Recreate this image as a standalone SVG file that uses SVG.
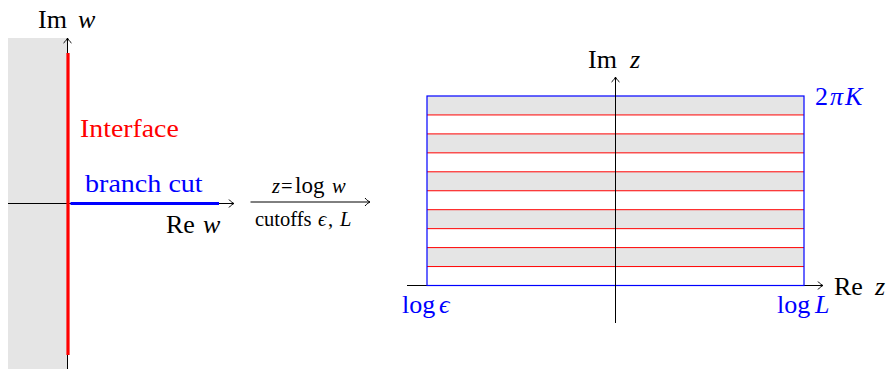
<svg xmlns="http://www.w3.org/2000/svg" width="887" height="369" viewBox="0 0 887 369">
<defs>
<style>
text{font-family:"Liberation Serif","DejaVu Serif",serif;font-size:26px;fill:#000}
.it{font-style:italic}
.red{fill:#ff0000}
.blue{fill:#0000ff}
.small{font-size:20.5px}
.axis{stroke:#000;stroke-width:1;fill:none}
.band{fill:#e5e5e5}
.rl{stroke:#ff0000;stroke-width:1}
</style>
<marker id="to" markerUnits="userSpaceOnUse" orient="auto" refX="0" refY="0" markerWidth="10" markerHeight="10" overflow="visible">
<path d="M-5,-4 C-3,-1.5 -1,-0.5 0,0 C-1,0.5 -3,1.5 -5,4" fill="none" stroke="#000" stroke-width="1"/>
</marker>
</defs>

<g id="w-plane">
<rect x="8" y="38" width="59.5" height="331" class="band"/>
<line x1="8" y1="203.5" x2="234" y2="203.5" class="axis" marker-end="url(#to)"/>
<line x1="67.5" y1="369" x2="67.5" y2="38" class="axis" marker-end="url(#to)"/>
<line x1="68" y1="53" x2="68" y2="355" stroke="#ff0000" stroke-width="3.2"/>
<line x1="70.5" y1="203.5" x2="219" y2="203.5" stroke="#0000ff" stroke-width="3.2"/>
<text x="38" y="28">Im<tspan x="78" class="it">w</tspan></text>
<text transform="translate(80,137) scale(1.07,1)" class="red">Interface</text>
<text transform="translate(85,192) scale(1.08,1)" class="blue">branch cut</text>
<text x="166" y="232.5">Re<tspan x="203" class="it">w</tspan></text>
</g>

<g id="connectors">
<line x1="250.5" y1="202" x2="370" y2="202" class="axis" marker-end="url(#to)"/>
<text x="272" y="193" class="small"><tspan class="it">z</tspan><tspan x="281">=</tspan><tspan x="295" font-size="23">log</tspan><tspan x="332" class="it">w</tspan></text>
<text x="255" y="225.5" class="small">cutoffs<tspan x="318" class="it">ϵ</tspan><tspan x="328">,</tspan><tspan x="340" class="it">L</tspan></text>
</g>

<g id="z-plane">
<rect x="427" y="96" width="377" height="18.95" class="band"/>
<rect x="427" y="133.9" width="377" height="18.95" class="band"/>
<rect x="427" y="171.8" width="377" height="18.95" class="band"/>
<rect x="427" y="209.7" width="377" height="18.95" class="band"/>
<rect x="427" y="247.6" width="377" height="18.95" class="band"/>
<line x1="427" y1="114.95" x2="804" y2="114.95" class="rl"/>
<line x1="427" y1="133.9" x2="804" y2="133.9" class="rl"/>
<line x1="427" y1="152.85" x2="804" y2="152.85" class="rl"/>
<line x1="427" y1="171.8" x2="804" y2="171.8" class="rl"/>
<line x1="427" y1="190.75" x2="804" y2="190.75" class="rl"/>
<line x1="427" y1="209.7" x2="804" y2="209.7" class="rl"/>
<line x1="427" y1="228.65" x2="804" y2="228.65" class="rl"/>
<line x1="427" y1="247.6" x2="804" y2="247.6" class="rl"/>
<line x1="427" y1="266.55" x2="804" y2="266.55" class="rl"/>
<line x1="407" y1="285.5" x2="823" y2="285.5" class="axis" marker-end="url(#to)"/>
<rect x="427" y="96" width="377" height="189.5" fill="none" stroke="#0000ff" stroke-width="1.2"/>
<line x1="615.5" y1="323" x2="615.5" y2="77" class="axis" marker-end="url(#to)"/>
<text x="588" y="68">Im<tspan x="630" class="it">z</tspan></text>
<text x="815" y="105" class="blue">2<tspan x="830" class="it">π</tspan><tspan x="845" class="it">K</tspan></text>
<text x="834" y="295">Re<tspan x="875" class="it">z</tspan></text>
<text x="402" y="313" class="blue">log<tspan x="439" class="it">ϵ</tspan></text>
<text x="777" y="313" class="blue">log<tspan x="815" class="it">L</tspan></text>
</g>
</svg>
